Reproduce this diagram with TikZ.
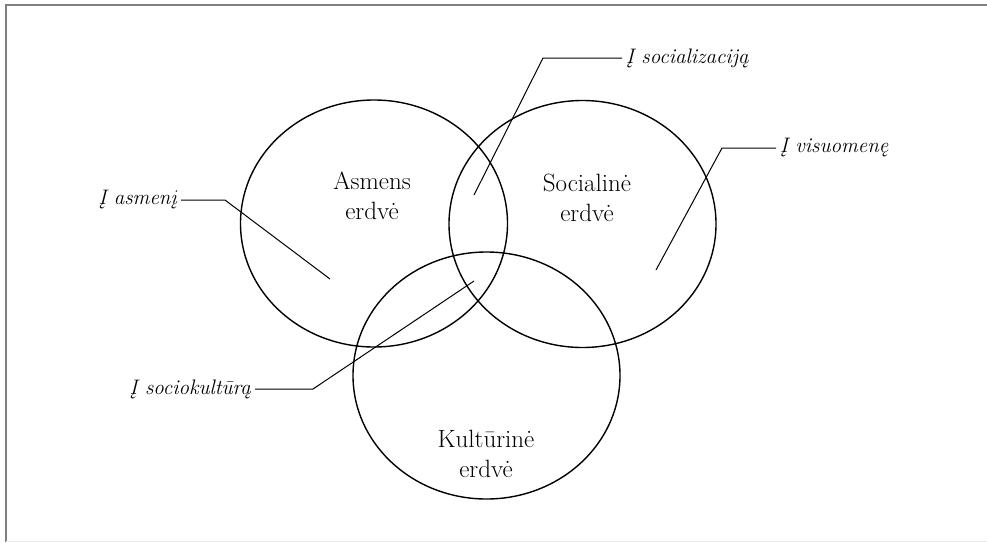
\documentclass[tikz,border=0pt]{standalone}
\usepackage{tikz}
\usetikzlibrary{shapes.geometric}

\begin{document}
\begin{tikzpicture}[
				x=1pt, y=-1pt,
				sritis/.style={ellipse, draw, line width=1.4pt, minimum width=267pt, minimum height=247pt, inner sep=0pt},
				pavad/.style={align=center, font=\fontsize{25}{30}\selectfont},
				zyme/.style={font=\fontsize{21}{25}\selectfont\itshape, inner sep=4pt},
				linija/.style={draw, line width=1pt}
			]
			\useasboundingbox (0,0) rectangle (987,542);
			\draw[gray, line width=1.6pt] (6,542) -- (6,5) -- (987,5);
			\draw[black!8, line width=1pt] (6,541) -- (987,541);
			% trys sritys
			\node[sritis] (asmens) at (374,223.5) {};
			\node[sritis] (socialine) at (582.5,224) {};
			\node[sritis] (kulturine) at (486.5,375.5) {};
			\node[pavad] (asmenst) at (372,196) {Asmens \\ erdvė};
			\node[pavad] (socialinet) at (587,198) {Socialinė \\ erdvė};
			\node[pavad] (kulturinet) at (486,454) {Kultūrinė \\ erdvė};
			% zymes
			\node[zyme, anchor=east] (asmeni) at (181,200) {Į asmenį};
			\node[zyme, anchor=west] (socializacija) at (622,58) {Į socializaciją};
			\node[zyme, anchor=west] (visuomene) at (776,148) {Į visuomenę};
			\node[zyme, anchor=east] (sociokultura) at (255,389) {Į sociokultūrą};
			\coordinate (a1) at (225,200);
			\coordinate (a2) at (330,279);
			\coordinate (s1) at (543,58);
			\coordinate (s2) at (474,195);
			\coordinate (v1) at (722,148);
			\coordinate (v2) at (656,270);
			\coordinate (k1) at (313,389);
			\coordinate (k2) at (474,281);
			\draw[linija] (asmeni.east) -- (a1) -- (a2);
			\draw[linija] (socializacija.west) -- (s1) -- (s2);
			\draw[linija] (visuomene.west) -- (v1) -- (v2);
			\draw[linija] (sociokultura.east) -- (k1) -- (k2);
		\end{tikzpicture}
\end{document}
